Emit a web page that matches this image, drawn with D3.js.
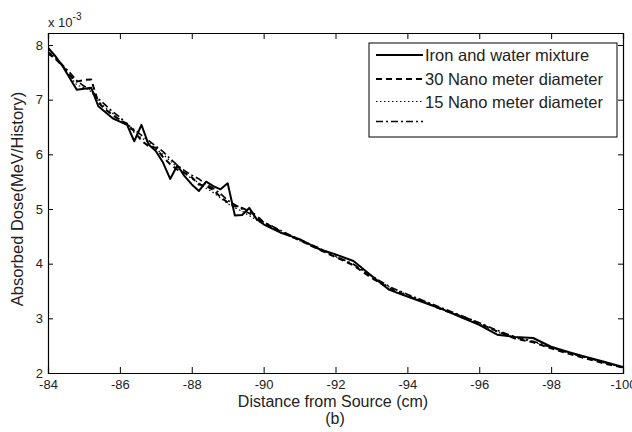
<!DOCTYPE html>
<html><head><meta charset="utf-8">
<script src="https://cdn.jsdelivr.net/npm/d3@7"></script>
<style>
body{margin:0;background:#fff;}
svg{display:block;font-family:"Liberation Sans",Arial,sans-serif;}
</style></head>
<body><svg id="c" width="632" height="432"></svg>
<script>
const distance = [-84,-84.2,-84.4,-84.6,-84.8,-85,-85.2,-85.4,-85.6,-85.8,-86,-86.2,-86.4,-86.6,-86.8,-87,-87.2,-87.4,-87.6,-87.8,-88,-88.2,-88.4,-88.6,-88.8,-89,-89.2,-89.4,-89.6,-89.8,-90,
  -90.5,-91,-91.5,-92,-92.5,-93,-93.5,-94,-94.5,-95,-95.5,-96,-96.5,-97,-97.5,-98,-98.5,-99,-99.5,-100];
const ironWater = [7.95,7.80,7.62,7.40,7.18,7.20,7.22,6.88,6.77,6.66,6.60,6.54,6.24,6.54,6.18,6.06,5.85,5.55,5.80,5.60,5.45,5.33,5.50,5.42,5.36,5.47,4.88,4.89,5.02,4.82,4.72,
  4.56,4.45,4.28,4.17,4.05,3.78,3.52,3.40,3.28,3.16,3.02,2.88,2.70,2.66,2.64,2.48,2.38,2.29,2.20,2.11];
const nano30 = [7.85,7.75,7.62,7.45,7.33,7.36,7.37,6.95,6.82,6.72,6.63,6.56,6.42,6.25,6.15,6.12,5.95,5.82,5.72,5.66,5.58,5.45,5.42,5.35,5.22,5.12,5.05,5.02,4.96,4.88,4.76,
  4.58,4.43,4.27,4.12,3.97,3.74,3.55,3.41,3.29,3.15,3.04,2.91,2.76,2.63,2.56,2.45,2.35,2.26,2.17,2.10];
const nano15 = [7.92,7.78,7.62,7.43,7.27,7.22,7.15,6.98,6.85,6.75,6.64,6.52,6.40,6.30,6.22,6.10,6.00,5.88,5.76,5.66,5.55,5.48,5.38,5.30,5.20,5.10,5.02,4.96,4.88,4.80,4.72,
  4.57,4.42,4.28,4.13,3.98,3.77,3.57,3.43,3.30,3.17,3.03,2.90,2.75,2.64,2.57,2.46,2.36,2.27,2.18,2.10];
const unlabeled = [7.88,7.76,7.64,7.50,7.35,7.25,7.18,7.02,6.90,6.78,6.68,6.55,6.45,6.35,6.25,6.15,6.05,5.92,5.80,5.70,5.62,5.55,5.45,5.38,5.28,5.16,5.08,5.00,4.92,4.84,4.76,
  4.60,4.44,4.30,4.14,3.99,3.78,3.58,3.44,3.31,3.18,3.05,2.92,2.78,2.66,2.58,2.47,2.37,2.28,2.19,2.10];
const seriesNames = ["Iron and water mixture","30 Nano meter diameter","15 Nano meter diameter",""];
const xTicks = [-84,-86,-88,-90,-92,-94,-96,-98,-100];
const yTicks = [2,3,4,5,6,7,8];

const svg = d3.select("#c");
const L=48, R=623, T=33, B=373;
const x = d3.scaleLinear().domain([-84,-100]).range([L,R]);
const y = d3.scaleLinear().domain([2,8.22]).range([B,T]);
const fmt = d => String(d); // plain hyphen-minus as in the reference

const styles = [
  {dash:null, w:2},
  {dash:"6,4", w:2},
  {dash:"1.5,2.5", w:1.2},
  {dash:"7,3,2,3", w:1.6}
];
const allSeries = [ironWater, nano30, nano15, unlabeled];

svg.append("clipPath").attr("id","clip").append("rect").attr("x",L).attr("y",T).attr("width",R-L).attr("height",B-T);

// axes
const fs = "13px";
const gx = svg.append("g").attr("transform",`translate(0,${B})`)
  .call(d3.axisBottom(x).tickValues(xTicks).tickFormat(fmt).tickSize(-6).tickPadding(7));
const gxt = svg.append("g").attr("transform",`translate(0,${T})`)
  .call(d3.axisTop(x).tickValues(xTicks).tickFormat("").tickSize(-6));
const gy = svg.append("g").attr("transform",`translate(${L},0)`)
  .call(d3.axisLeft(y).tickValues(yTicks).tickFormat(fmt).tickSize(-5).tickPadding(5));
const gyr = svg.append("g").attr("transform",`translate(${R},0)`)
  .call(d3.axisRight(y).tickValues(yTicks).tickFormat("").tickSize(-5));
[gx,gxt,gy,gyr].forEach(g=>{
  g.selectAll("path.domain").attr("stroke","#000").attr("stroke-width",1.2);
  g.selectAll(".tick line").attr("stroke","#000").attr("stroke-width",1);
  g.selectAll("text").attr("font-size",fs).attr("fill","#222").attr("font-family","Liberation Sans, Arial, sans-serif");
});

// lines
const line = d3.line().x((d,i)=>x(distance[i])).y(d=>y(d));
const plot = svg.append("g").attr("clip-path","url(#clip)");
allSeries.forEach((s,i)=>{
  plot.append("path").datum(s).attr("d",line).attr("fill","none").attr("stroke","#000")
    .attr("stroke-width",styles[i].w).attr("stroke-dasharray",styles[i].dash).attr("stroke-linejoin","round");
});

// exponent
const ex = svg.append("text").attr("x",L).attr("y",27).attr("font-size","13px").attr("fill","#222");
ex.append("tspan").text("x 10");
ex.append("tspan").attr("dy",-7).attr("font-size","10px").text("-3");

// axis labels
svg.append("text").attr("x",333).attr("y",407).attr("text-anchor","middle").attr("font-size","16px").attr("fill","#222").text("Distance from Source (cm)");
svg.append("text").attr("x",335).attr("y",424).attr("text-anchor","middle").attr("font-size","16px").attr("fill","#222").text("(b)");
svg.append("text").attr("transform",`translate(23,${(T+B)/2-4}) rotate(-90)`).attr("text-anchor","middle").attr("font-size","16.5px").attr("fill","#222").text("Absorbed Dose(MeV/History)");

// legend
const lg = svg.append("g");
lg.append("rect").attr("x",369).attr("y",43).attr("width",248).attr("height",94).attr("fill","#fff").attr("stroke","#000").attr("stroke-width",1);
const rowY = [55,79,101.5,121.5];
seriesNames.forEach((n,i)=>{
  lg.append("line").attr("x1",376).attr("x2",423).attr("y1",rowY[i]).attr("y2",rowY[i]).attr("stroke","#000")
    .attr("stroke-width",styles[i].w).attr("stroke-dasharray",styles[i].dash);
  lg.append("text").attr("x",425).attr("y",rowY[i]+6).attr("font-size","16.5px").attr("fill","#222").text(n);
});
</script></body></html>
